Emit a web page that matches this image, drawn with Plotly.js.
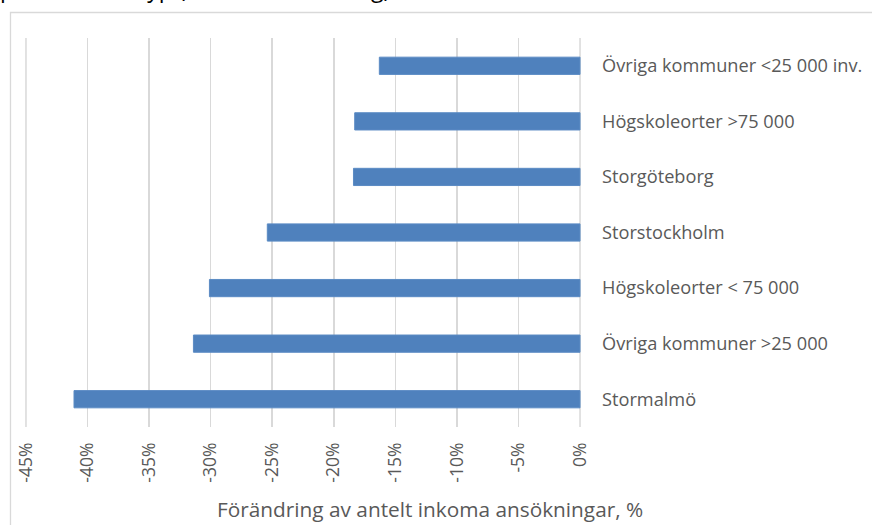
<!DOCTYPE html>
<html><head><meta charset="utf-8">
<script src="https://cdn.plot.ly/plotly-3.0.1.min.js"></script>
<style>html,body{margin:0;padding:0;background:#fff;}#chart{width:872px;height:525px;}</style>
</head><body><div id="chart"></div>
<script>
const categories = ["Stormalmö","Övriga kommuner >25 000","Högskoleorter < 75 000","Storstockholm","Storgöteborg","Högskoleorter >75 000","Övriga kommuner <25 000 inv."];
const values = [-41.1, -31.4, -30.1, -25.4, -18.4, -18.3, -16.3];
const xTicks = [-45,-40,-35,-30,-25,-20,-15,-10,-5,0];
const xTickLabels = ["-45%","-40%","-35%","-30%","-25%","-20%","-15%","-10%","-5%","0%"];
const chartTitle = "per kommuntyp (Kommunindelning)";
const xTitle = "Förändring av antelt inkoma ansökningar, %";

const W = 872, H = 525;
const L = 25, R = 291, T = 38, B = 98;
const pw = W - L - R, ph = H - T - B;
const px = v => (v - L) / pw;
const py = v => (H - B - v) / ph;

const font = "'Open Sans', Lato, sans-serif";
const edgeGrid = [xTicks[0], xTicks[xTicks.length - 1]].map(v => ({
  type: 'line', xref: 'x', yref: 'paper', x0: v, x1: v, y0: 0, y1: 1,
  line: {color: '#d9d9d9', width: 1.5}, layer: 'below'}));
Plotly.newPlot('chart', [{
  type: 'bar', orientation: 'h', y: categories, x: values,
  marker: {color: '#4f81bd', line: {color: '#5b8bc4', width: 1}},
  width: 0.31, hoverinfo: 'x+y'
}], {
  width: W, height: H,
  margin: {l: L, r: R, t: T, b: B, pad: 0},
  paper_bgcolor: '#fff', plot_bgcolor: '#fff',
  showlegend: false,
  font: {family: font, color: '#595959', size: 16},
  xaxis: {range: [-45.08, 0.08], tickvals: xTicks, ticktext: xTickLabels, tickangle: -90,
    showgrid: true, gridcolor: '#d9d9d9', gridwidth: 1.5, zeroline: false, showline: false,
    ticks: '', ticklabelstandoff: 11, tickfont: {size: 17.5, color: '#595959', family: font}, fixedrange: true},
  yaxis: {type: 'category', categoryorder: 'array', categoryarray: categories, side: 'right',
    range: [-0.5, 6.5], showgrid: false, zeroline: false, showline: false, ticks: '',
    ticklabelstandoff: 20, tickfont: {size: 18.2, color: '#595959', family: font}, fixedrange: true},
  shapes: [{type: 'rect', xref: 'paper', yref: 'paper', x0: px(10.5), x1: px(880), y0: py(12.5), y1: py(540),
    line: {color: '#d9d9d9', width: 1.3}, fillcolor: 'rgba(0,0,0,0)', layer: 'below'}].concat(edgeGrid),
  annotations: [
    {xref: 'paper', yref: 'paper', x: px(430), y: py(509), text: xTitle, showarrow: false,
      xanchor: 'center', yanchor: 'middle', font: {size: 20.8, color: '#595959', family: font}},
    {xref: 'paper', yref: 'paper', x: px(-2), y: py(6), text: chartTitle, showarrow: false,
      xanchor: 'left', yanchor: 'bottom', font: {size: 23, color: '#000', family: font}}
  ]
}, {displayModeBar: false, staticPlot: true});
</script></body></html>
